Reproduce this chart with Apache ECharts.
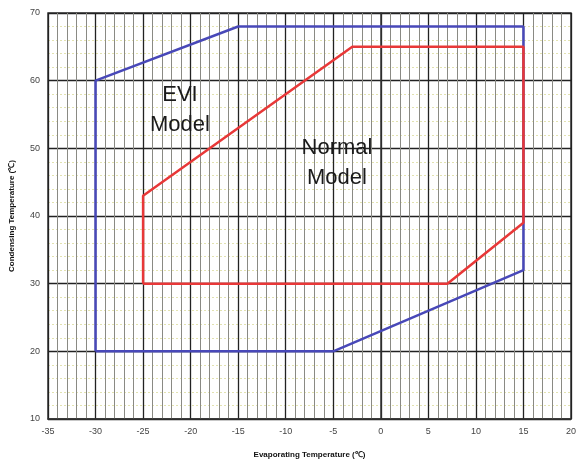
<!DOCTYPE html>
<html><head><meta charset="utf-8">
<script src="https://cdn.jsdelivr.net/npm/echarts@6/dist/echarts.min.js"></script>
<style>html,body{margin:0;padding:0;background:#fff}#c{width:579px;height:464px}</style>
</head><body><div id="c"></div>
<script>
const xTicks = [-35,-30,-25,-20,-15,-10,-5,0,5,10,15,20];
const yTicks = [10,20,30,40,50,60,70];
const eviX = [-30,-30,-15,15,15,-5,-30];
const eviY = [20,60,68,68,32,20,20];
const normX = [-25,-25,-3,15,15,7,-25];
const normY = [30,43,65,65,39,30,30];
const eviLabel = ['EVI','Model'];
const normLabel = ['Normal','Model'];
const xName = 'Evaporating Temperature (℃)';
const yName = 'Condensing Temperature (℃)';

const chart = echarts.init(document.getElementById('c'));
const pair = (xs, ys) => xs.map((x,i)=>[x, ys[i]]);
chart.setOption({
  animation:false,
  grid:{left:48,top:13,right:3,bottom:45,show:true,borderColor:'#333',borderWidth:1.5},
  xAxis:{type:'value',min:xTicks[0],max:xTicks[xTicks.length-1],interval:5,
    name:xName,nameLocation:'middle',nameGap:32,
    nameTextStyle:{fontSize:8,fontWeight:'bold',color:'#111',fontFamily:'Liberation Sans'},
    axisLine:{show:true,lineStyle:{color:'#333',width:1.5}},
    axisTick:{show:false},
    axisLabel:{fontSize:9,color:'#444',margin:8,fontFamily:'Liberation Sans'},
    splitLine:{show:true,lineStyle:{color:'#222',width:1.3}},
    minorTick:{show:false,splitNumber:5},
    minorSplitLine:{show:true,lineStyle:{color:'#8a8a84',width:1}}
  },
  yAxis:{type:'value',min:yTicks[0],max:yTicks[yTicks.length-1],interval:10,
    name:yName,nameLocation:'middle',nameGap:32,
    nameTextStyle:{fontSize:8,fontWeight:'bold',color:'#111',fontFamily:'Liberation Sans'},
    axisLine:{show:true,lineStyle:{color:'#333',width:1.5}},
    axisTick:{show:false},
    axisLabel:{fontSize:9,color:'#444',margin:8,fontFamily:'Liberation Sans'},
    splitLine:{show:true,lineStyle:{color:'#222',width:1.3}},
    minorTick:{show:false,splitNumber:5},
    minorSplitLine:{show:true,lineStyle:{color:'#e2e2b0',width:1,type:[2,2]}}
  },
  series:[
    {type:'line',data:pair(eviX,eviY),symbol:'none',lineStyle:{color:'#4848b8',width:2.5},z:3},
    {type:'line',data:pair(normX,normY),symbol:'none',lineStyle:{color:'#e83838',width:2.5},z:4}
  ],
  graphic:[
    {type:'text',x:180,y:110,z:10,style:{text:eviLabel.join('\n'),fontSize:22,lineHeight:30,fill:'#1a1a1a',align:'center',verticalAlign:'middle',fontFamily:'Liberation Sans'}},
    {type:'text',x:337,y:163,z:10,style:{text:normLabel.join('\n'),fontSize:22,lineHeight:30,fill:'#1a1a1a',align:'center',verticalAlign:'middle',fontFamily:'Liberation Sans'}}
  ]
});
</script></body></html>
